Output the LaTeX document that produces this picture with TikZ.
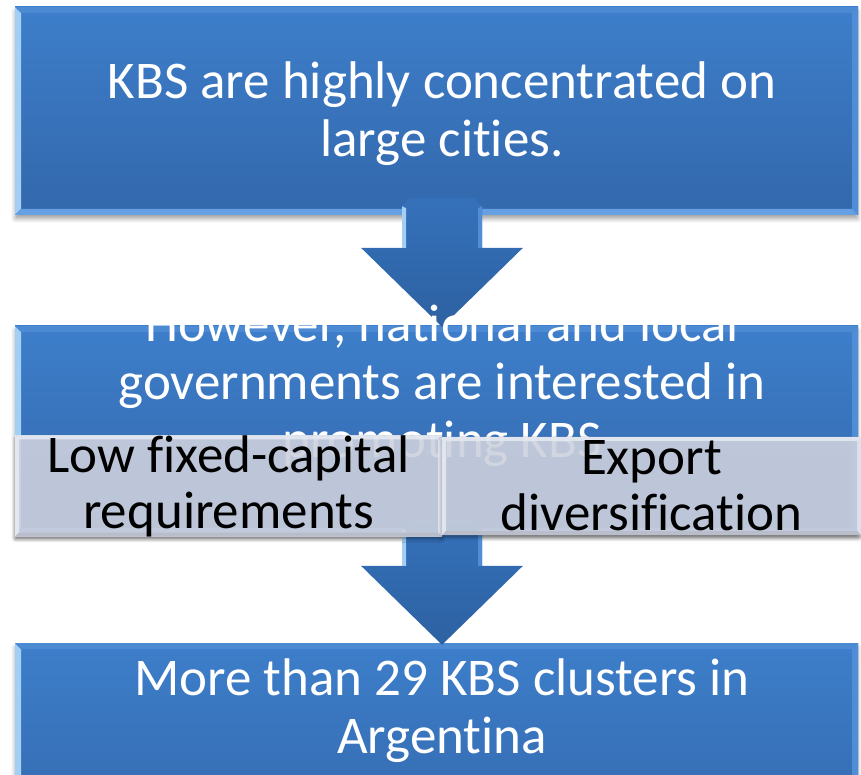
\documentclass[tikz,border=0pt]{standalone}
\usepackage{fontspec}
\setmainfont{Carlito}[Ligatures=NoCommon]
\usetikzlibrary{calc,shadows.blur}

\definecolor{boxtop}{HTML}{3D7ECA}
\definecolor{boxbot}{HTML}{3368AC}
\definecolor{bevleft}{HTML}{A4CFF4}
\definecolor{bevtop}{HTML}{4C8BD4}
\definecolor{bevright}{HTML}{4F8ED6}
\definecolor{bevbot}{HTML}{64A0E2}
\definecolor{arrtop}{HTML}{3571BA}
\definecolor{arrbot}{HTML}{2D61A2}
\definecolor{greyfill}{HTML}{D8DDEA}

% block arrow: #1 = top of the shaft, #2 = tip
\newcommand\blockarrow[2]{%
  \path[arrowbody] let \p1=#1, \p2=#2 in
    (\x1-40pt,\y1-8pt) -- (\x1-32pt,\y1) -- (\x1+32pt,\y1) -- (\x1+40pt,\y1-8pt)
    -- (\x1+40pt,\y2+79pt) -- (\x1+81pt,\y2+79pt) -- (\x2,\y2)
    -- (\x1-81pt,\y2+79pt) -- (\x1-40pt,\y2+79pt) -- cycle;
  \fill[bevleft] let \p1=#1, \p2=#2 in
    (\x1-40pt,\y1-8pt) -- (\x1-36pt,\y1-10pt) -- (\x1-36pt,\y2+79pt) -- (\x1-40pt,\y2+79pt) -- cycle;
  \fill[bevright] let \p1=#1, \p2=#2 in
    (\x1+40pt,\y1-8pt) -- (\x1+36pt,\y1-10pt) -- (\x1+36pt,\y2+79pt) -- (\x1+40pt,\y2+79pt) -- cycle;
}

\tikzset{
  bevelled/.style n args={5}{path picture={
    \path (path picture bounding box.south west) coordinate (bsw)
          (path picture bounding box.north west) coordinate (bnw)
          (path picture bounding box.north east) coordinate (bne)
          (path picture bounding box.south east) coordinate (bse);
    \fill[#2] (bsw) -- (bnw) -- ($(bnw)+(#1,-#1)$) -- ($(bsw)+(#1,#1)$) -- cycle;
    \fill[#3] (bnw) -- (bne) -- ($(bne)+(-#1,-#1)$) -- ($(bnw)+(#1,-#1)$) -- cycle;
    \fill[#4] (bne) -- (bse) -- ($(bse)+(-#1,#1)$) -- ($(bne)+(-#1,-#1)$) -- cycle;
    \fill[#5] (bse) -- (bsw) -- ($(bsw)+(#1,#1)$) -- ($(bse)+(-#1,#1)$) -- cycle;
  }},
}

\begin{document}
\begin{tikzpicture}[x=1pt,y=1pt,
    bluebox/.style={minimum width=843pt, minimum height=208pt, inner sep=0pt,
      top color=boxtop, bottom color=boxbot,
      blur shadow={shadow xshift=0pt, shadow yshift=-4pt, shadow blur radius=4pt, shadow opacity=35},
      bevelled={6pt}{bevleft}{bevtop}{bevright}{bevbot}},
    whitetext/.style={text=white, align=center, font=\fontsize{53}{58}\selectfont},
    greybox/.style={minimum height=98pt, inner sep=0pt, fill=greyfill, fill opacity=0.85,
      text opacity=1, align=center, font=\fontsize{53}{56}\selectfont,
      blur shadow={shadow xshift=0pt, shadow yshift=-3pt, shadow blur radius=3pt, shadow opacity=40},
      bevelled={4pt}{white!40!greyfill}{white!35!greyfill}{white!20!greyfill}{black!15!greyfill}},
    arrowbody/.style={top color=arrtop, bottom color=arrbot}]
  \useasboundingbox (0,0) rectangle (861,774);

  \node[bluebox] (kbs) at (436.5,663) {};
  \node[whitetext] (kbstext) at ($(kbs)+(5.5,-2.5)$) {KBS are highly concentrated on\\large cities.};

  \node[bluebox] (gov) at (436.5,344) {};
  \node[bluebox] (arb) at (436.5,27) {};
  \node[whitetext] (arbtext) at ($(arb.north)+(5.5,-68)$) {More than 29 KBS clusters in\\Argentina};

  \blockarrow{($(kbs.south)+(5.5,17)$)}{($(gov.north)+(5.5,-1)$)}
  \node[whitetext] (govtext) at ($(gov)+(5.5,44.5)$) {However, national and local\\governments are interested in\\promoting KBS};

  \blockarrow{($(gov.south)+(5.5,14)$)}{($(arb.north)+(5.5,-2)$)}

  % the two factors lie over the lower edge of the middle box
  \node[greybox, minimum width=427pt] (fixcap) at (228.5,288) {Low fixed-capital\\requirements};
  \node[greybox, minimum width=419pt] (export) at (651.5,288) {Export\\diversification};
\end{tikzpicture}
\end{document}
